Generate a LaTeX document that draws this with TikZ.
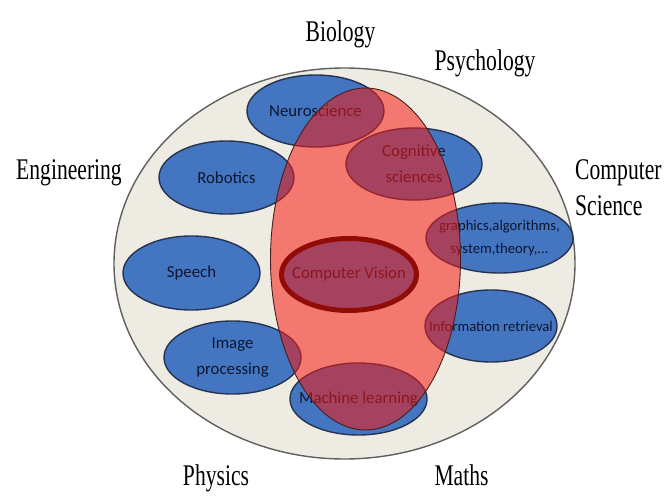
\documentclass[tikz,border=0pt]{standalone}
\usepackage{fontspec}
\setmainfont{Liberation Serif}
\newfontfamily\fieldfont[FakeStretch=0.72]{Liberation Serif}
\newfontfamily\topicfont{Carlito}
\usetikzlibrary{shapes.geometric}

\definecolor{outerfill}{RGB}{238,236,226}
\definecolor{outerline}{RGB}{95,95,95}
\definecolor{topicfill}{RGB}{68,117,192}
\definecolor{topicline}{RGB}{38,52,82}
\definecolor{topictext}{RGB}{14,22,48}
\definecolor{visionfill}{RGB}{249,23,14}
\definecolor{visionline}{RGB}{70,30,30}
\definecolor{cvring}{RGB}{25,0,0}

\tikzset{
  field/.style={font=\fieldfont\fontsize{30}{34}\selectfont, inner sep=0pt, anchor=base},
  topicname/.style={text=topictext, align=center, inner sep=0pt,
    font=\topicfont\fontsize{16.8}{26}\selectfont},
  smallname/.style={topicname, font=\topicfont\fontsize{14.7}{23}\selectfont},
  topic/.style={ellipse, draw=topicline, line width=1.4pt, fill=topicfill, inner sep=0pt},
  sz/.style n args={2}{minimum width=#1pt, minimum height=#2pt}
}

\begin{document}
\begin{tikzpicture}[x=1pt,y=-1pt]
  \useasboundingbox (0,0) rectangle (667,500);

  % surrounding field of disciplines
  \node[ellipse, draw=outerline, line width=1.4pt, fill=outerfill, inner sep=0pt,
        minimum width=461pt, minimum height=391pt] (field) at (344.5,263.5) {};

  % outer discipline labels
  \node[field] (bio)   at (340.5,42)  {Biology};
  \node[field] (psy)   at (485,71)    {Psychology};
  \node[field] (eng)   at (69,179)    {Engineering};
  \node[field, anchor=base west] (comp) at (575,180) {Computer};
  \node[field, anchor=base west] (sci)  at (575,215) {Science};
  \node[field] (phy)   at (216,485)   {Physics};
  \node[field] (math)  at (461.5,485) {Maths};

  % related topics (outline and name share one centre)
  \node[topic, sz={137}{72}, label={[topicname]center:Neuroscience}] (neuro) at (315.5,111) {};
  \node[topic, sz={136}{72}, label={[topicname]center:Cognitive\\sciences}] (cog) at (414,164) {};
  \node[topic, sz={135}{73}, label={[topicname]center:Robotics}] (robo) at (226.5,177.5) {};
  \node[topic, sz={147}{70}, label={[smallname]center:graphics,algorithms,\\system,theory,...}] (graph) at (499.5,238) {};
  \node[topic, sz={137}{74}, label={[topicname]center:Speech}] (speech) at (191.5,273) {};
  \node[topic, sz={137}{73}, label={[topicname]center:Image\\processing}] (img) at (232.5,357.5) {};
  \node[topic, sz={132}{72}, label={[smallname]center:Information retrieval}] (ir) at (491,326) {};
  \node[topic, sz={137}{72}, label={[topicname]center:Machine learning}] (ml) at (358.5,399) {};
  \node[topic, draw=cvring, line width=5pt, sz={135}{72},
        label={[topicname]center:Computer Vision}] (cv) at (349,274.5) {};

  % computer vision zone laid over the topics
  \node[ellipse, draw=visionline, line width=0.9pt, fill=visionfill, fill opacity=0.54,
        inner sep=0pt, minimum width=190pt, minimum height=342pt] (zone) at (365.5,259) {};
\end{tikzpicture}
\end{document}
